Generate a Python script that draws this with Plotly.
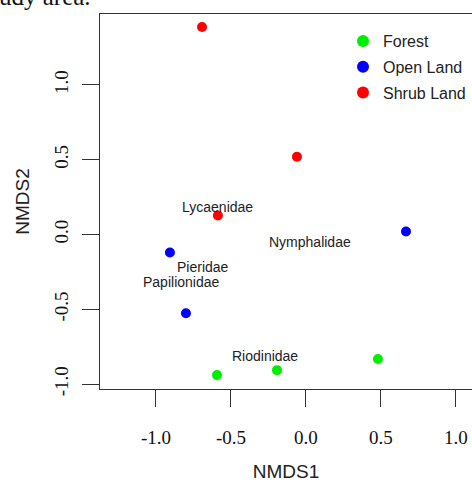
import plotly.graph_objects as go

# ---- data ----
groups = ["Forest", "Open Land", "Shrub Land"]
colors = ["#00ee00", "#0000ff", "#ff0000"]
forest_x = [-0.593, -0.193, 0.480]
forest_y = [-0.940, -0.907, -0.833]
open_x = [0.667, -0.907, -0.800]
open_y = [0.020, -0.120, -0.527]
shrub_x = [-0.693, -0.060, -0.587]
shrub_y = [1.387, 0.520, 0.127]

family_names = ["Lycaenidae", "Nymphalidae", "Pieridae", "Papilionidae", "Riodinidae"]
family_x = [-0.587, 0.030, -0.687, -0.833, -0.273]
family_y = [0.187, -0.047, -0.220, -0.320, -0.815]

tick_vals = [-1.0, -0.5, 0.0, 0.5, 1.0]
tick_text = ["-1.0", "-0.5", "0.0", "0.5", "1.0"]

series_x = [forest_x, open_x, shrub_x]
series_y = [forest_y, open_y, shrub_y]

fig = go.Figure()
for i, g in enumerate(groups):
    fig.add_trace(go.Scatter(
        x=series_x[i], y=series_y[i], mode="markers", name=g,
        legendgroup=g,
        marker=dict(color=colors[i], size=10, line=dict(width=0)),
    ))

for name, lx, ly in zip(family_names, family_x, family_y):
    fig.add_annotation(x=lx, y=ly, text=name, showarrow=False,
                       font=dict(family="Liberation Sans, Arial", size=14, color="#222222"),
                       xanchor="center", yanchor="middle")

# fragment of document text above the chart (cut off at the top, as in the source)
fig.add_annotation(xref="paper", yref="paper", x=-0.278, y=1.0, text="udy area.",
                   showarrow=False, xanchor="left", yanchor="bottom", yshift=2,
                   font=dict(family="Liberation Serif, Times New Roman", size=25, color="#111111"))

line_col = "#333333"
fig.update_xaxes(
    range=[-1.373, 1.107], tickvals=tick_vals, ticktext=tick_text,
    showline=True, linecolor=line_col, linewidth=1.3, mirror=True,
    ticks="outside", ticklen=17, tickwidth=1.3, tickcolor=line_col,
    showgrid=False, zeroline=False, automargin=False,
    tickfont=dict(family="Liberation Serif, Times New Roman", size=19, color="#111111"),
    ticklabelstandoff=14,
    title=dict(text="NMDS1", font=dict(family="Liberation Sans, Arial", size=19, color="#222222"), standoff=22),
)
fig.update_yaxes(
    range=[-1.033, 1.474], tickvals=tick_vals, ticktext=tick_text,
    showline=True, linecolor=line_col, linewidth=1.3, mirror=False,
    ticks="outside", ticklen=17, tickwidth=1.3, tickcolor=line_col,
    showgrid=False, zeroline=False, tickangle=-90, automargin=False,
    tickfont=dict(family="Liberation Serif, Times New Roman", size=19, color="#111111"),
    ticklabelstandoff=6,
    title=dict(text="NMDS2", font=dict(family="Liberation Sans, Arial", size=19, color="#222222"), standoff=16),
)

fig.update_layout(
    width=472, height=482,
    margin=dict(l=100, r=0, t=14, b=93),
    plot_bgcolor="white", paper_bgcolor="white",
    showlegend=True,
    legend=dict(x=(343 - 100) / 372.0, y=1 - (24 - 14) / 375.0, yanchor="top",
                font=dict(family="Liberation Sans, Arial", size=16, color="#222222"),
                bgcolor="rgba(0,0,0,0)", tracegroupgap=2, traceorder="grouped",
                itemsizing="constant"),
)

fig.write_html("out.html", config={"displayModeBar": False},
               post_script="document.body.style.margin='0';document.body.style.overflow='hidden';")
